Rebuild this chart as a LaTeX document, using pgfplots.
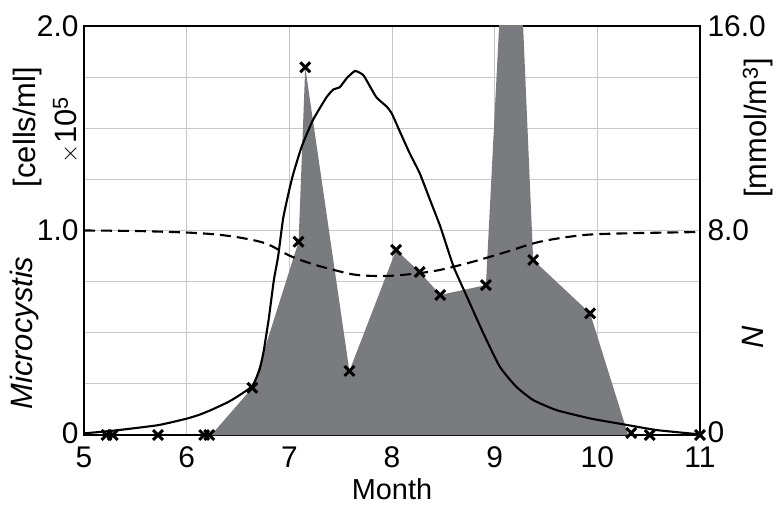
\documentclass[border=0pt]{standalone}
\usepackage{fontspec}
\setmainfont{Liberation Sans}
\usepackage{pgfplots}
\pgfplotsset{compat=1.18}
\definecolor{fillgray}{RGB}{122,123,127}
\definecolor{gridgray}{RGB}{200,200,200}
\begin{document}
\begin{tikzpicture}
\path[use as bounding box] (-84bp,-73bp) rectangle (693bp,435bp);
\pgfplotsset{
  every axis/.append style={
    scale only axis, width=616bp, height=409bp,
    xmin=5, xmax=11,
    major tick length=0, minor tick length=0,
    tick label style={font=\fontsize{30}{32}\selectfont},
    /pgf/number format/assume math mode=true,
    axis line style={line width=2.4bp},
  }
}
\begin{axis}[
  ymin=0, ymax=2,
  xtick={5,6,7,8,9,10,11},
  ytick={0,1,2}, yticklabels={\raisebox{3bp}{0},1.0,2.0},
  minor ytick={0.25,0.5,0.75,1.25,1.5,1.75},
  grid=both,
  major grid style={gridgray, line width=0.9bp},
  minor grid style={gridgray, line width=0.9bp},
  yticklabel style={xshift=-2bp},
  xticklabel style={yshift=-8bp},
  clip mode=individual,
]
% measured Microcystis (area)
\addplot[fill=fillgray, draw=none] coordinates {
 (6.24,0) (6.64,0.231) (7.09,0.945) (7.155,1.798) (7.585,0.313) (8.04,0.905)
 (8.27,0.797) (8.47,0.685) (8.915,0.733) (9.17,3.25) (9.375,0.856) (9.93,0.595)
 (10.30,0.0) (6.24,0)
};
% model curve
\addplot[black, line width=2.1bp, smooth, tension=0.3] coordinates {
 (5,0.008) (5.3,0.022) (5.72,0.048) (6.0,0.08) (6.13,0.1) (6.25,0.125) (6.4,0.16)
 (6.5,0.19) (6.64,0.24) (6.71,0.32) (6.75,0.41) (6.8,0.57) (6.85,0.76) (6.89,0.87)
 (6.94,1.06) (7.0,1.2) (7.04,1.28) (7.12,1.41) (7.23,1.54) (7.36,1.65) (7.43,1.69)
 (7.49,1.70) (7.56,1.745) (7.64,1.78) (7.72,1.76) (7.785,1.705) (7.85,1.65)
 (7.95,1.605) (8.0,1.57) (8.08,1.48) (8.17,1.38) (8.27,1.28) (8.37,1.15) (8.47,1.02)
 (8.6,0.823) (8.73,0.676) (8.89,0.497) (9.05,0.334) (9.21,0.236) (9.375,0.171)
 (9.6,0.122) (9.93,0.081) (10.29,0.049) (10.58,0.024) (11,0.003)
};
% measured points
\addplot[only marks, mark=x, mark size=7pt, black,
  mark options={line width=3pt, solid}] coordinates {
 (5.22,0) (5.28,0) (5.72,0) (6.17,0) (6.22,0) (6.64,0.231) (7.09,0.945) (7.155,1.798)
 (7.585,0.313) (8.04,0.905) (8.27,0.797) (8.47,0.685) (8.915,0.733) (9.375,0.856)
 (9.93,0.595) (10.33,0.01) (10.51,0) (11,0)
};
\end{axis}
\begin{axis}[
  ymin=0, ymax=16,
  axis y line*=right, axis x line=none,
  ytick={0,8,16}, yticklabels={\raisebox{6bp}{0},8.0,16.0},
  yticklabel style={xshift=4bp},
]
\addplot[black, line width=2.1bp, dash pattern=on 11bp off 6bp, smooth] coordinates {
 (5,8.0) (5.5,7.98) (6.0,7.92) (6.3,7.84) (6.55,7.70) (6.78,7.48) (7.0,7.02)
 (7.2,6.72) (7.43,6.46) (7.66,6.26) (7.95,6.22) (8.24,6.32) (8.47,6.46) (8.79,6.78)
 (9.12,7.17) (9.44,7.56) (9.86,7.82) (10.29,7.89) (11,7.94)
};
\end{axis}
\node[rotate=90, font=\fontsize{31}{33}\selectfont\itshape] at (-59bp,102bp) {Microcystis};
\node[rotate=90, font=\fontsize{31}{33}\selectfont] at (-56bp,308bp) {[cells/ml]};
\node[rotate=90, font=\fontsize{31}{33}\selectfont] at (-18bp,305bp) {$\times$10\textsuperscript{5}};
\node[rotate=90, font=\fontsize{31}{33}\selectfont] at (674bp,307bp) {[mmol/m\textsuperscript{3}]};
\node[rotate=90, font=\fontsize{31}{33}\selectfont\itshape] at (669bp,98bp) {N};
\node[inner sep=0pt, font=\fontsize{29}{31}\selectfont] at (308bp,-54bp) {Month};
\end{tikzpicture}
\end{document}
